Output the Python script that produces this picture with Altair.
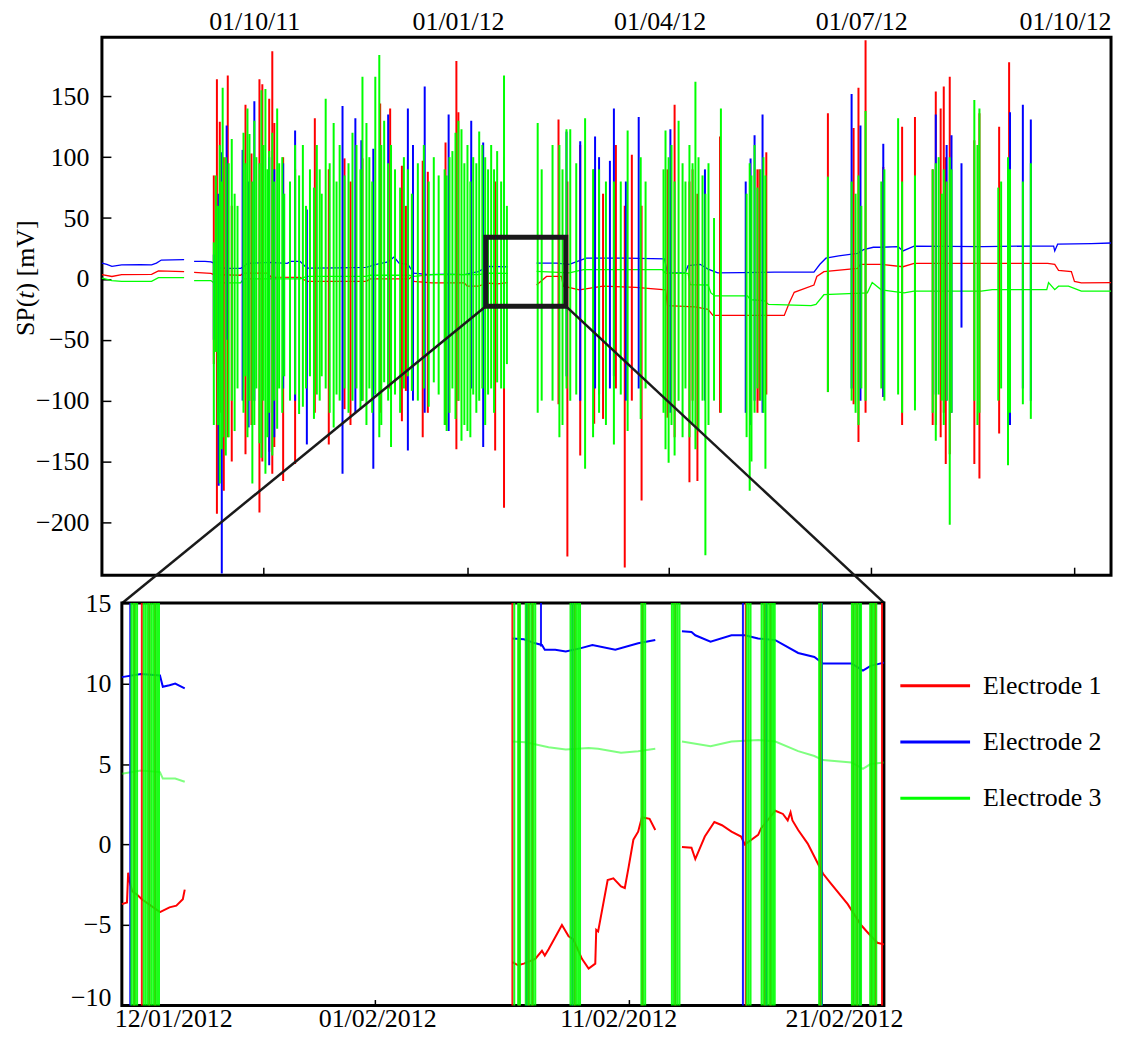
import altair as alt
import pandas as pd

FONT = "Liberation Serif"
ELECTRODES = ["Electrode 1", "Electrode 2", "Electrode 3"]
COLORS = ["#ff0000", "#0000ff", "#00ff00"]

# ---------------- top panel (x = days since 20/07/2011, y = mV) ----------------
TOP_X_DOMAIN = [0, 455.5]
TOP_Y_DOMAIN = [-243.4, 198.5]
top_tick_days = [73, 165, 256, 347, 439]
top_tick_labels = ["01/10/11", "01/01/12", "01/04/12", "01/07/12", "01/10/12"]
top_y_ticks = [-200, -150, -100, -50, 0, 50, 100, 150]

# baselines (day, mV); None = gap in the record
top_e1 = [(0, 3.5), (4.5, 2), (8.9, 3.5), (22.4, 3.8), (25.5, 6.6), (37.1, 6), None,
          (41.6, 5.4), (49.2, 4.5), (50.5, 3.5), (62.6, 3), (63.9, 4.8), (74.6, 4.8), (76.4, 1.5),
          (89.4, 1.3), (92.5, -2), (119.3, -2), (121.1, 0), (138.6, 0), (139.9, 2), (140.8, -2),
          (148.9, -3.3), (163.6, -3.3), (164.9, -6), (169.9, -6), (174.3, -3.5), (178.4, -4),
          (183.3, -3), None,
          (196.2, -5), (200.7, 2), (207.4, 2), (208.3, -6), (215.5, -9), (226.2, -6), (241, -7),
          (254.4, -9), (255.3, -22), (267.8, -23), (273.6, -25), (275.8, -30), (308, -30),
          (310.2, -20), (312.5, -11), (321.4, -5), (322.7, 2), (325.9, 6), (341.1, 8.7),
          (342.4, 12), (351.8, 12), (361.6, 10), (366.6, 12.8), (426.9, 12.8), (430.1, 12),
          (431.8, 7), (437.6, 6), (439, -2), (442.1, -3.3), (455.5, -3)]
top_e2 = [(0, 13), (2.2, 12), (4.5, 10.3), (8.9, 11.5), (17.4, 11.8), (22.4, 11.5), (24.6, 13),
          (26.8, 15.5), (31.7, 15.6), (37.1, 15.8), None,
          (41.6, 14.4), (46.5, 14.4), (49.2, 14), (50.5, 13), (52.3, 9), (57.7, 8.7), (62.6, 8.7),
          (63.9, 10), (65.7, 12.8), (75.5, 13.5), (83.6, 12.8), (85.4, 14.4), (89.4, 14.4),
          (92.5, 8.9), (106.8, 9), (119.3, 9.5), (123.8, 12), (129.2, 14), (131.9, 18),
          (134.1, 13), (138.1, 12), (140.8, 4.8), (147.5, 3.5), (156, 4), (163.6, 3.5),
          (167.2, 5), (169.9, 6), (174.3, 10.3), (183.3, 9.8), None,
          (196.2, 13), (205.2, 13), (211, 12), (218.6, 17), (236.5, 17), (253.9, 16.5),
          (255.3, 5), (263.3, 5), (264.6, 11), (270, 12), (273.6, 8), (278, 5), (303.5, 5.5),
          (321.4, 5.5), (324.1, 12), (326.8, 17), (332.6, 19), (341.1, 21), (343.8, 24),
          (348.2, 26), (351.8, 26), (359.4, 26.5), (361.6, 23), (366.6, 27), (397.7, 26.5),
          (419.7, 27), (429.6, 27), (430.1, 23), (431.4, 28.5), (446.6, 29), (455.5, 29.5)]
top_e3 = [(0, 0.7), (4.5, -1.4), (8.9, -2), (22.4, -2), (25.5, 1), (37.1, 1), None,
          (41.6, -1.4), (49.2, -1.4), (50.5, -3.3), (62.6, -3.3), (63.9, 0), (89.4, 0), (92.5, 2),
          (119.3, 2), (121.1, 3), (138.6, 3), (140.8, 2), (148.9, 3.5), (169.9, 3.5),
          (174.3, 4.8), (183.3, 4.5), None,
          (196.2, 6.2), (211, 5), (217.3, 7.6), (253, 7.6), (254.4, 4.5), (264.6, 4.5),
          (265.5, -4.7), (273.6, -5), (274.9, -11.5), (276.7, -14), (291.4, -14), (292.7, -17),
          (299.1, -18), (300.9, -21), (320.1, -22), (322.3, -21), (325.9, -13), (345.5, -11.5),
          (347.7, -3), (351.8, -9), (362.1, -11.5), (366.6, -10), (396.9, -10), (401.9, -8.8),
          (426.5, -8.8), (427.3, -3), (430.1, -8.8), (431.8, -6), (436.3, -6), (442.1, -10),
          (455.5, -10)]

# spikes (day, high mV, low mV)
top_spk_e1 = [(50.5, 85, -70), (51.9, 164, -193), (53.2, 129, -110), (55.0, 100, -174), (56.8, 167, -130),
              (58.6, 60, -150), (64.8, 143, -144), (67.5, 103, -120), (71.1, 164, -192), (72.4, 160, -150),
              (75.5, 148, -142), (76.9, 187, -160), (77.8, 128, -138), (81.8, 100, -166), (87.2, 90, -152),
              (96.1, 132, -110), (102.4, 90, -136), (109.5, 99, -107), (112.2, 80, -120), (117.6, 99, -100),
              (125.6, 144, -110), (130.1, 140, -90), (135.4, 93, -117), (137.2, 60, -92), (144.8, 97, -130),
              (147.1, 88, -110), (155.1, 112, -120), (160.0, 179, -140), (160.9, 137, -100), (177.5, 80, -141),
              (181.5, 50, -188),
              (206.1, 131, -103), (210.1, 80, -228), (215.9, 110, -145), (222.2, 90, -119), (226.2, 70, -115),
              (232.0, 110, -90), (236.0, 60, -237), (239.2, 102, -100), (243.6, 60, -182), (255.3, 90, -114),
              (258.5, 143, -130), (265.2, 80, -167), (266.6, 90, -100), (268.8, 70, -166), (279.0, 117, -110),
              (292.8, 70, -90), (295.9, 90, -110), (296.8, 90, -100), (299.9, 104, -95),
              (327.7, 136, -93), (339.3, 124, -103), (341.5, 157, -134), (344.7, 196, -110), (352.7, 92, -97),
              (361.2, 125, -120), (367.0, 133, -100), (375.0, 90, -120), (376.4, 154, -120), (378.6, 140, -130),
              (380.0, 158, -110), (380.9, 100, -152), (382.7, 166, -144), (393.8, 114, -152), (396.1, 136, -164),
              (405.0, 125, -127), (409.5, 178, -110)]
top_spk_e2 = [(50.5, 20, -50), (52.7, 70, -170), (54.1, 104, -242), (56.3, 126, -50), (63.5, 106, -100),
              (66.2, 80, -122), (68.8, 146, -100), (75.5, 100, -153), (77.8, 90, -130), (81.8, 95, -90),
              (87.2, 122, -100), (92.5, 57, -136), (108.6, 142, -160), (114.4, 132, -110), (117.1, 114, -100),
              (122.5, 107, -156), (129.2, 135, -90), (138.1, 140, -141), (140.4, 110, -100), (145.7, 158, -110),
              (156.5, 135, -125), (166.7, 130, -90), (172.1, 112, -138), (181.5, 100, -80),
              (209.7, 121, -80), (215.9, 113, -100), (222.6, 117, -90), (224.4, 100, -95), (229.3, 97, -90),
              (231.1, 140, -80), (236.5, 80, -100), (242.3, 133, -90), (256.6, 123, -110), (272.2, 90, -100),
              (290.6, 80, -110), (292.8, 99, -120), (294.6, 118, -100), (298.2, 135, -110),
              (338.4, 152, -90), (342.4, 126, -100), (352.7, 111, -97), (376.4, 135, -95), (381.3, 110, -100),
              (383.5, 118, -110), (388.0, 95, -40), (409.9, 137, -120), (415.7, 143, -90), (419.3, 131, -100)]
top_spk_e3 = [(50.5, 30, -120), (51.4, 85, -60), (52.3, 60, -120), (53.2, 110, -168), (54.1, 80, -140),
              (54.5, 157, -130), (55.9, 100, -145), (57.2, 95, -130), (58.6, 115, -100), (59.9, 70, -125),
              (61.2, 60, -90),
              (63.9, 120, -110), (64.8, 95, -80), (65.7, 140, -130), (66.6, 119, -100), (67.9, 80, -168),
              (68.8, 130, -120), (69.7, 100, -90), (71.1, 95, -135), (72.0, 155, -147), (72.9, 110, -100),
              (73.8, 156, -160), (74.7, 90, -130), (75.5, 105, -110), (76.9, 120, -145), (77.8, 80, -100),
              (79.1, 140, -123), (80.0, 95, -90), (81.4, 100, -110), (82.3, 70, -80),
              (84.9, 80, -100), (87.2, 110, -95), (89.0, 85, -111), (90.7, 110, -105), (92.1, 60, -90),
              (93.9, 90, -80), (95.7, 75, -115), (97.0, 110, -95), (98.3, 90, -100), (99.2, 70, -80),
              (101.0, 148, -90), (102.8, 95, -110), (104.6, 128, -122), (105.9, 80, -95), (107.3, 110, -100),
              (109.5, 85, -90), (111.3, 95, -110), (113.1, 120, -100),
              (114.9, 110, -90), (116.7, 90, -107), (117.6, 166, -100), (119.4, 128, -120), (120.7, 100, -90),
              (122.0, 80, -110), (123.4, 166, -95), (125.2, 184, -130), (126.1, 110, -120), (127.4, 130, -85),
              (129.2, 95, -100), (130.5, 110, -138), (132.3, 90, -95), (134.6, 75, -110), (136.3, 100, -90),
              (138.1, 90, -80),
              (139.9, 70, -92), (142.6, 95, -100), (145.3, 110, -90), (147.5, 80, -105), (149.8, 100, -85),
              (152.0, 85, -95),
              (154.7, 90, -120), (155.6, 85, -125), (156.9, 100, -110), (158.2, 105, -90), (159.6, 120, -115),
              (160.9, 130, -100), (162.3, 123, -133), (163.6, 95, -120), (165.0, 110, -125), (166.3, 80, -130),
              (167.6, 100, -95), (169.0, 95, -110), (170.3, 121, -100), (171.7, 110, -90), (173.0, 100, -120),
              (174.3, 90, -95), (175.7, 110, -90), (177.0, 90, -110), (178.4, 105, -85), (180.2, 80, -90),
              (181.5, 167, -90), (182.8, 60, -70),
              (196.7, 128, -110), (198.5, 90, -100), (203.4, 110, -100), (206.5, 110, -130), (207.9, 90, -120),
              (209.7, 123, -90), (211.4, 123, -100), (214.1, 95, -95), (218.1, 132, -156), (221.7, 90, -130),
              (224.4, 90, -110), (227.5, 80, -120), (231.1, 80, -136), (234.2, 80, -95), (237.3, 122, -125),
              (243.2, 100, -115), (245.4, 80, -90),
              (253.5, 90, -110), (254.4, 122, -140), (255.8, 100, -151), (257.1, 110, -120), (258.5, 80, -145),
              (260.3, 130, -100), (262.1, 95, -130), (263.4, 80, -90), (265.2, 110, -130), (266.6, 95, -120),
              (267.9, 162, -140), (269.3, 100, -125), (271.1, 85, -100), (272.4, 70, -227), (273.8, 95, -120),
              (276.3, 50, -100), (279.4, 140, -110),
              (291.0, 70, -130), (292.4, 95, -174), (293.2, 85, -150), (294.6, 110, -110), (295.9, 75, -90),
              (297.3, 90, -100), (298.6, 100, -110), (299.5, 85, -156),
              (327.7, 84, -93), (338.4, 80, -100), (340.2, 70, -110), (341.5, 85, -120), (342.8, 60, -90),
              (344.7, 138, -100),
              (351.8, 80, -90), (353.2, 90, -100), (359.4, 132, -95), (361.2, 80, -110), (367.0, 85, -108),
              (375.0, 90, -110), (376.4, 95, -133), (377.7, 100, -95), (379.1, 70, -100), (380.0, 90, -120),
              (381.3, 80, -100), (382.7, 100, -202), (383.5, 90, -110), (393.8, 147, -100), (395.2, 110, -120),
              (396.1, 140, -110), (404.6, 75, -100), (405.9, 80, -90), (409.0, 100, -153), (409.9, 90, -110),
              (415.7, 80, -103), (419.3, 95, -115)]

# zoom box (days, mV) and where its corners lead (bottom panel's top corners, top-panel units)
zoom_days = [173.3, 209.4]
zoom_mv = [-22.4, 34.3]
inset_corner_days = [9.2, 353.2]
inset_corner_mv = -266.3

# ---------------- bottom panel (x = days from left edge, y = mV) ----------------
BOT_X_DOMAIN = [0, 40]
BOT_Y_DOMAIN = [-10, 15]
bot_label_days = [2.7, 13.4, 26.06, 37.9]
bot_labels = ["12/01/2012", "01/02/2012", "11/02/2012", "21/02/2012"]
bot_tick_days = [13.3, 26.6]
bot_y_ticks = [-10, -5, 0, 5, 10, 15]

bot_e1 = [(0, -3.7), (0.27, -3.6), (0.33, -1.75), (0.41, -2.3), (0.54, -2.9), (0.79, -3.1), (1.05, -3.4),
          (2.0, -4.2), (2.5, -3.9), (2.86, -3.8), (3.2, -3.4), (3.3, -2.8), None,
          (20.5, -7.3), (20.8, -7.5), (21.1, -7.4), (21.7, -7.1), (22.05, -6.6), (22.2, -6.9), (22.4, -6.5),
          (23.1, -5.0), (23.45, -5.7), (23.7, -5.9), (24.15, -7.1), (24.5, -7.7), (24.85, -7.4),
          (24.9, -5.3), (25.0, -5.4), (25.5, -2.2), (25.8, -2.1), (26.2, -2.6), (26.4, -2.7), (26.6, -1.4),
          (26.85, 0.3), (27.1, 0.8), (27.3, 1.7), (27.7, 1.6), (28.0, 0.9), None,
          (29.4, -0.15), (29.9, -0.2), (30.1, -0.9), (30.6, 0.5), (31.1, 1.4), (31.5, 1.2), (32.0, 0.8),
          (32.5, 0.5), (32.7, 0.0), (33.4, 0.6), (33.55, 1.0), (34.3, 2.1), (34.7, 1.9), (34.95, 1.5),
          (35.1, 2.0), (35.2, 1.5), (35.5, 0.9), (36.0, 0.06), (36.5, -1.1), (36.8, -1.8), (37.2, -2.4),
          (38.1, -3.7), (38.8, -5.0), (39.1, -5.4), (39.65, -6.1), (40, -6.2)]
bot_e2 = [(0, 10.4), (1.0, 10.6), (2.0, 10.5), (2.15, 9.8), (2.5, 9.9), (2.8, 10.0), (3.3, 9.7), None,
          (20.5, 12.8), (21.1, 12.75), (21.7, 12.5), (22.05, 12.4), (22.2, 12.1), (22.75, 12.1),
          (23.3, 12.0), (24.1, 12.2), (24.7, 12.4), (25.9, 12.1), (27.1, 12.5), (28.0, 12.7), None,
          (29.4, 13.25), (29.9, 13.2), (30.1, 13.0), (30.9, 12.6), (32.0, 13.0), (32.7, 13.0),
          (33.4, 12.8), (34.3, 12.7), (35.5, 11.9), (36.35, 11.65), (36.8, 11.25), (38.3, 11.25),
          (38.9, 10.8), (39.3, 11.1), (40, 11.3)]
bot_e3 = [(0, 4.4), (1.0, 4.6), (2.0, 4.5), (2.15, 4.1), (2.8, 4.1), (3.3, 3.9), None,
          (20.5, 6.4), (21.2, 6.35), (22.4, 6.05), (23.3, 5.9), (24.5, 6.0), (25.0, 5.95), (26.2, 5.7),
          (27.1, 5.8), (28.0, 5.95), None,
          (29.4, 6.4), (30.9, 6.1), (32.0, 6.4), (33.4, 6.5), (34.3, 6.4), (35.5, 5.8), (36.35, 5.5),
          (36.8, 5.25), (38.3, 5.1), (38.9, 4.7), (39.3, 5.0), (40, 5.1)]

bot_spk_e1 = [(0.65, 60, -60), (1.05, 80, -120), (1.44, 70, -90), (1.75, 90, -110), (20.5, 100, -90),
              (20.85, 80, -120), (21.35, 110, -100), (21.55, 90, -130), (23.77, 100, -110), (27.32, 90, -100),
              (29.05, 120, -90), (32.75, 80, -110), (33.75, 100, -100), (34.05, 90, -120), (36.65, 110, -100),
              (38.4, 90, -110), (38.6, 100, -130), (39.35, 80, -90), (39.55, 90, -110), (39.9, 70, -100)]
bot_spk_e2 = [(0.44, 100, -120), (21.25, 90, -100), (22.0, 16, 12.3), (23.65, 110, -90), (32.6, 100, -110),
              (33.83, 120, -100), (36.75, 90, -100), (38.75, 100, -120)]
bot_spk_e3 = [(0.5, 90, -110), (0.6, 100, -120), (0.7, 110, -100), (0.8, 95, -130), (1.15, 120, -110),
              (1.25, 100, -140), (1.35, 130, -100), (1.45, 90, -120), (1.55, 110, -110), (1.65, 100, -130),
              (1.75, 120, -100), (1.85, 95, -110), (1.95, 80, -90),
              (20.6, 90, -100), (20.8, 100, -110), (20.9, 80, -90), (21.2, 110, -120), (21.3, 100, -110),
              (21.4, 120, -130), (21.5, 95, -100), (21.6, 110, -120), (21.7, 90, -100),
              (23.55, 100, -110), (23.65, 120, -100), (23.75, 90, -130), (23.85, 110, -110), (23.95, 100, -120),
              (24.05, 90, -100), (27.27, 110, -110), (27.37, 95, -120), (27.47, 100, -100),
              (28.87, 110, -120), (28.97, 100, -110), (29.07, 120, -130), (29.17, 95, -100), (29.27, 90, -110),
              (32.8, 100, -110), (32.9, 110, -100), (33.0, 90, -120),
              (33.58, 110, -100), (33.68, 100, -130), (33.78, 120, -110), (33.88, 95, -120), (33.98, 110, -100),
              (34.08, 100, -110), (34.18, 90, -120), (34.27, 100, -100),
              (36.6, 110, -110), (36.72, 90, -100),
              (38.32, 100, -120), (38.42, 110, -110), (38.52, 95, -100), (38.62, 120, -130), (38.72, 100, -110),
              (38.8, 90, -100), (39.28, 110, -120), (39.38, 100, -110), (39.48, 90, -100), (39.6, 100, -120)]


# ---------------- helpers ----------------
def lines_rows(rows, name):
    out, seg = [], 0
    for r in rows:
        if r is None:
            seg += 1
            continue
        out.append({"day": r[0], "mv": r[1], "electrode": name, "seg": f"{name} {seg}"})
    return out


def spike_rows(rows, name):
    return [{"day": d, "hi": h, "lo": l, "electrode": name} for d, h, l in rows]


def label_expr(vals, labels):
    expr = "''"
    for v, l in zip(reversed(vals), reversed(labels)):
        expr = f"(abs(datum.value - {v}) < 0.05) ? '{l}' : {expr}"
    return expr


color_scale = alt.Scale(domain=ELECTRODES, range=COLORS)
axis_common = dict(labelFont=FONT, labelFontSize=26, labelColor="black", grid=False, domain=False,
                   title=None, tickColor="black", tickWidth=1.5)

# ---------------- top chart ----------------
top_lines = pd.DataFrame(lines_rows(top_e1, ELECTRODES[0]) + lines_rows(top_e2, ELECTRODES[1])
                         + lines_rows(top_e3, ELECTRODES[2]))
top_spikes = pd.DataFrame(spike_rows(top_spk_e1, ELECTRODES[0]) + spike_rows(top_spk_e2, ELECTRODES[1])
                          + spike_rows(top_spk_e3, ELECTRODES[2]))
box_df = pd.DataFrame({"d1": [zoom_days[0]], "d2": [zoom_days[1]], "v1": [zoom_mv[0]], "v2": [zoom_mv[1]]})
conn_df = pd.DataFrame({"d1": zoom_days, "v1": [zoom_mv[0]] * 2,
                        "d2": inset_corner_days, "v2": [inset_corner_mv] * 2})

xs_top = alt.Scale(domain=TOP_X_DOMAIN, nice=False, zero=False)
ys_top = alt.Scale(domain=TOP_Y_DOMAIN, nice=False, zero=False)

top_x_labels = alt.Axis(orient="top", values=top_tick_days,
                        labelExpr=label_expr(top_tick_days, top_tick_labels),
                        ticks=False, labelPadding=2.6, labelOffset=-9.5, labelFlush=False, **axis_common)
top_x_ticks = alt.Axis(orient="bottom", values=top_tick_days, labels=False, tickSize=8, offset=-8,
                       **axis_common)
top_y_axis = alt.Axis(orient="left", values=top_y_ticks, tickSize=9, offset=-9, labelPadding=13,
                      labelFlush=False, **axis_common)

t_lines = alt.Chart(top_lines).mark_line(strokeWidth=1.3).encode(
    x=alt.X("day:Q", scale=xs_top, axis=top_x_labels),
    y=alt.Y("mv:Q", scale=ys_top, axis=top_y_axis),
    color=alt.Color("electrode:N", scale=color_scale, legend=None),
    detail="seg:N",
)
t_spikes = alt.Chart(top_spikes).mark_rule(strokeWidth=2).encode(
    x=alt.X("day:Q", scale=xs_top, axis=top_x_ticks),
    y=alt.Y("lo:Q", scale=ys_top, axis=None),
    y2="hi:Q",
    color=alt.Color("electrode:N", scale=color_scale, legend=None),
)
t_box = alt.Chart(box_df).mark_rect(fillOpacity=0, stroke="#1a1a1a", strokeWidth=5).encode(
    x=alt.X("d1:Q", scale=xs_top, axis=None), x2="d2:Q",
    y=alt.Y("v1:Q", scale=ys_top, axis=None), y2="v2:Q",
)
t_conn = alt.Chart(conn_df).mark_rule(strokeWidth=2.5, color="#1a1a1a").encode(
    x=alt.X("d1:Q", scale=xs_top, axis=None), x2="d2:Q",
    y=alt.Y("v1:Q", scale=ys_top, axis=None), y2="v2:Q",
)

title_parts = [("SP(", "normal", 300), ("t", "italic", 262.4), (") [mV]", "normal", 255.2)]
title_layers = [
    alt.Chart(pd.DataFrame({"s": [txt]})).mark_text(
        angle=270, align="left", baseline="alphabetic", font=FONT, fontSize=26,
        fontStyle=style, color="black"
    ).encode(text="s:N", x=alt.value(-68), y=alt.value(ypos))
    for txt, style, ypos in title_parts
]

top = alt.layer(t_lines, t_spikes, t_box, t_conn, *title_layers).resolve_axis(
    x="independent", y="independent"
).properties(width=1013, height=540)

# ---------------- bottom chart ----------------
bot_lines_rb = pd.DataFrame(lines_rows(bot_e1, ELECTRODES[0]) + lines_rows(bot_e2, ELECTRODES[1]))
bot_lines_g = pd.DataFrame(lines_rows(bot_e3, ELECTRODES[2]))
bot_spikes = pd.DataFrame(spike_rows(bot_spk_e1, ELECTRODES[0]) + spike_rows(bot_spk_e2, ELECTRODES[1])
                          + spike_rows(bot_spk_e3, ELECTRODES[2]))

xs_bot = alt.Scale(domain=BOT_X_DOMAIN, nice=False, zero=False)
ys_bot = alt.Scale(domain=BOT_Y_DOMAIN, nice=False, zero=False)

bot_x_labels = alt.Axis(orient="bottom", values=bot_label_days,
                        labelExpr=label_expr(bot_label_days, bot_labels),
                        ticks=False, labelPadding=0, labelFlush=False, **axis_common)
bot_x_ticks = alt.Axis(orient="bottom", values=bot_tick_days, labels=False, tickSize=6, offset=-6,
                       **axis_common)
bot_y_axis = alt.Axis(orient="left", values=bot_y_ticks, tickSize=7, offset=-7, labelPadding=11,
                      labelFlush=False,
                      labelBaseline={"condition": {"test": "datum.value == -10", "value": "alphabetic"},
                                     "value": "middle"},
                      **axis_common)

b_lines_rb = alt.Chart(bot_lines_rb).mark_line(strokeWidth=2).encode(
    x=alt.X("day:Q", scale=xs_bot, axis=bot_x_labels),
    y=alt.Y("mv:Q", scale=ys_bot, axis=bot_y_axis),
    color=alt.Color("electrode:N", scale=color_scale, legend=None),
    detail="seg:N",
)
b_lines_g = alt.Chart(bot_lines_g).mark_line(strokeWidth=2, opacity=0.5).encode(
    x=alt.X("day:Q", scale=xs_bot, axis=None),
    y=alt.Y("mv:Q", scale=ys_bot, axis=None),
    color=alt.Color("electrode:N", scale=color_scale, legend=None),
    detail="seg:N",
)
b_spikes = alt.Chart(bot_spikes).mark_rule(strokeWidth=2, clip=True, opacity=0.9).encode(
    x=alt.X("day:Q", scale=xs_bot, axis=bot_x_ticks),
    y=alt.Y("lo:Q", scale=ys_bot, axis=None),
    y2="hi:Q",
    color=alt.Color("electrode:N", scale=color_scale, legend=None),
)

bottom = alt.layer(b_lines_rb, b_lines_g, b_spikes).resolve_axis(
    x="independent", y="independent"
).properties(width=765, height=404)

# ---------------- legend (drawn from the electrode list) ----------------
legend_df = pd.DataFrame({"electrode": ELECTRODES, "row": [0, 1, 2]})
legend_y = alt.Y("row:Q", scale=alt.Scale(domain=[0, 2], range=[83, 196], nice=False, zero=False), axis=None)
leg_lines = alt.Chart(legend_df).mark_rule(strokeWidth=3).encode(
    x=alt.value(16.5), x2=alt.value(86.5), y=legend_y,
    color=alt.Color("electrode:N", scale=color_scale, legend=None),
)
leg_text = alt.Chart(legend_df).mark_text(
    align="left", baseline="middle", font=FONT, fontSize=26, color="black"
).encode(x=alt.value(99.5), y=legend_y, text="electrode:N")
legend_panel = alt.layer(leg_lines, leg_text).properties(
    width=215, height=404, view=alt.ViewBackground(strokeOpacity=0)
)

spacer = alt.Chart(pd.DataFrame({"z": [0]})).mark_point(opacity=0).encode(
    x=alt.X("z:Q", axis=None), y=alt.Y("z:Q", axis=None)
).properties(width=20, height=404, view=alt.ViewBackground(strokeOpacity=0))

lower = alt.hconcat(spacer, bottom, legend_panel, spacing=0, bounds="flush")

chart = alt.vconcat(top, lower, spacing=28, bounds="flush").properties(
    padding={"left": 3.3, "top": -3.6, "right": 0, "bottom": -1}
).configure_view(stroke="black", strokeWidth=3)

chart.save("out.html", embed_options={"renderer": "svg", "actions": False})
